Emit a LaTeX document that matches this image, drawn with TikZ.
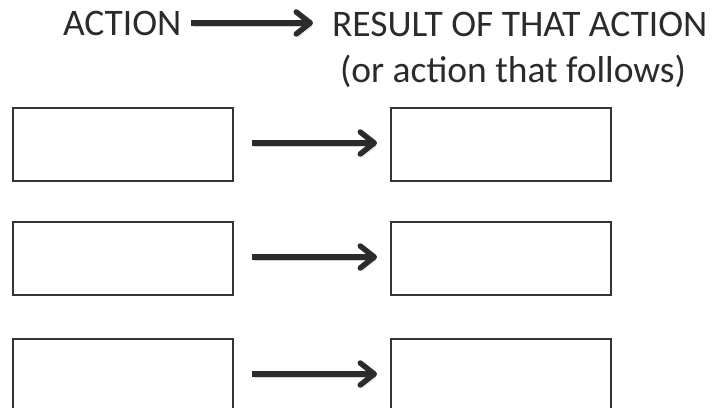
\documentclass[tikz,border=0pt]{standalone}
\usepackage{fontspec}
\setmainfont{Carlito}
\usetikzlibrary{positioning,arrows.meta}
\definecolor{inkgray}{HTML}{2B2B2B}
\definecolor{boxgray}{HTML}{333333}
\definecolor{shadowgray}{HTML}{D2D2D2}
\tikzstyle{action chart}=[
    x=1pt,y=-1pt,node distance=41pt and 158pt,
    every node/.style={
        font=\fontsize{37.5}{44}\selectfont,
        text=inkgray,
        inner sep=0pt,outer sep=0pt,
    },
    box/.style={
        draw=boxgray,line width=2pt,
        minimum width=220pt,minimum height=73pt,
    },
    link/.style={
        draw=inkgray,line width=5.5pt,
        -{Straight Barb[length=14pt,width=22pt,round]},
        preaction={draw=shadowgray,transform canvas={shift={(1.5pt,-3.5pt)}}},
}]

\begin{document}
\begin{tikzpicture}[action chart]
        \useasboundingbox (0,0) rectangle (719,407);
        \clip (0,0) rectangle (719,407);

        \node[anchor=base west] (action) at (63,35) {ACTION};
        \node[anchor=base west] (result) at (332,36) {RESULT OF THAT ACTION};
        \node[anchor=base west] (follows) at (340,82) {(or action that follows)};

        \node[box] (a1) at (123,144.5) {};
        \node[box, below=of a1] (a2) {};
        \node[box, below=44pt of a2] (a3) {};
        \node[box, right=of a1] (r1) {};
        \node[box, right=of a2] (r2) {};
        \node[box, right=of a3] (r3) {};

        \draw[link, shorten <=10pt, shorten >=19pt] (action.east) -- (action.east -| result.west);
        \foreach \i in {1,2,3}
            \draw[link, shorten <=19pt, shorten >=14pt] ([yshift=1.5pt]a\i.east) -- ([yshift=1.5pt]a\i.east -| r\i.west);
    \end{tikzpicture}
\end{document}
